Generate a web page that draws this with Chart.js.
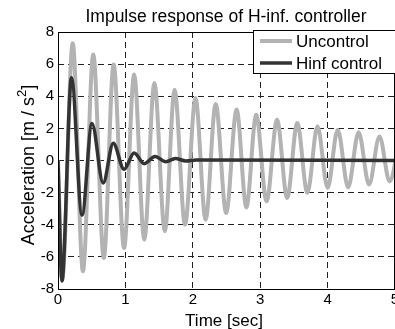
<!DOCTYPE html>
<html>
<head>
<meta charset="utf-8">
<script src="https://cdn.jsdelivr.net/npm/chart.js@4"></script>
<style>
  html, body { margin: 0; padding: 0; background: #fff; }
  #wrap { width: 395px; height: 329px; position: relative; overflow: hidden; }
</style>
</head>
<body>
<div id="wrap"><canvas id="chart" width="395" height="329"></canvas></div>
<script>
// values (peaks and troughs, seconds / m/s^2)
const uncTime = [0, 0.063, 0.218, 0.37, 0.523, 0.68, 0.825, 0.98, 1.13, 1.28, 1.43, 1.585, 1.73, 1.885, 2.04, 2.19, 2.34, 2.495, 2.65, 2.795, 2.94, 3.095, 3.25, 3.40, 3.55, 3.70, 3.85, 4.0, 4.15, 4.305, 4.46, 4.615, 4.77, 4.92, 5.07];
const uncAcc  = [0, -7.4, 7.3, -6.9, 6.6, -6.07, 5.97, -5.45, 5.35, -4.93, 4.83, -4.4, 4.41, -4.0, 3.89, -3.69, 3.52, -3.27, 3.17, -2.92, 2.85, -2.54, 2.54, -2.33, 2.33, -2.02, 2.13, -1.71, 1.92, -1.67, 1.76, -1.5, 1.5, -1.3, 1.4];

const hinfTime = [0, 0.058, 0.2, 0.356, 0.504, 0.67, 0.82, 0.98, 1.13, 1.28, 1.44, 1.6, 1.74, 1.9, 2.05, 5];
const hinfAcc  = [0, -7.5, 5.15, -3.4, 2.3, -1.4, 1.08, -0.55, 0.47, -0.2, 0.25, -0.08, 0.12, -0.03, 0.03, 0];

const seriesNames = ['Uncontrol', 'Hinf control'];
const xTicks = [0, 1, 2, 3, 4, 5];
const yTicks = [-8, -6, -4, -2, 0, 2, 4, 6, 8];

const titleText = 'Impulse response of H-inf. controller';
const xTitle = 'Time [sec]';
const yTitleParts = ['Acceleration [m / s', '2', ']'];

const FONT = "'Liberation Sans', Arial, sans-serif";
const GRAY = '#b3b3b3';
const DARK = '#333333';

function toPoints(xs, ys) {
    return xs.map((x, i) => ({ x: x, y: ys[i] }));
}

const textPlugin = {
    id: 'textPlugin',
    afterDraw(chart) {
        const ctx = chart.ctx;
        const a = chart.chartArea;
        ctx.save();

        // solid axes box
        ctx.strokeStyle = '#000';
        ctx.lineWidth = 1;
        ctx.setLineDash([]);
        ctx.strokeRect(a.left + 0.5, a.top + 0.5, a.right - a.left - 1, a.bottom - a.top);

        // title
        ctx.fillStyle = '#000';
        ctx.font = '17.5px ' + FONT;
        ctx.textAlign = 'center';
        ctx.textBaseline = 'alphabetic';
        ctx.fillText(titleText, 226, 22);

        // x title
        ctx.font = '17px ' + FONT;
        ctx.fillText(xTitle, 224, 326);

        // y title with superscript
        ctx.save();
        ctx.translate(34, 165);
        ctx.rotate(-Math.PI / 2);
        ctx.textAlign = 'left';
        ctx.font = '18px ' + FONT;
        const w0 = ctx.measureText(yTitleParts[0]).width;
        const w2 = ctx.measureText(yTitleParts[2]).width;
        ctx.font = '13px ' + FONT;
        const w1 = ctx.measureText(yTitleParts[1]).width;
        let x0 = -(w0 + w1 + w2) / 2;
        ctx.font = '18px ' + FONT;
        ctx.fillText(yTitleParts[0], x0, 0);
        ctx.font = '13px ' + FONT;
        ctx.fillText(yTitleParts[1], x0 + w0, -8);
        ctx.font = '18px ' + FONT;
        ctx.fillText(yTitleParts[2], x0 + w0 + w1, 0);
        ctx.restore();

        // legend
        ctx.font = '17px ' + FONT;
        ctx.fillStyle = '#fff';
        ctx.fillRect(253, 30, 160, 43);
        ctx.strokeStyle = '#000';
        ctx.lineWidth = 1;
        ctx.strokeRect(253.5, 30.5, 160, 43);
        const colors = [GRAY, DARK];
        const widths = [4, 3.5];
        const ys = [41, 63];
        seriesNames.forEach((name, i) => {
            ctx.strokeStyle = colors[i];
            ctx.lineWidth = widths[i];
            ctx.beginPath();
            ctx.moveTo(260, ys[i]);
            ctx.lineTo(292, ys[i]);
            ctx.stroke();
            ctx.fillStyle = '#000';
            ctx.textAlign = 'left';
            ctx.textBaseline = 'middle';
            ctx.fillText(name, 296, ys[i] + 1);
        });
        ctx.restore();
    }
};

const ctx = document.getElementById('chart').getContext('2d');
new Chart(ctx, {
    type: 'line',
    data: {
        datasets: [
            {
                label: seriesNames[0],
                data: toPoints(uncTime, uncAcc),
                borderColor: GRAY,
                borderWidth: 4,
                pointRadius: 0,
                cubicInterpolationMode: 'monotone',
                fill: false,
                order: 1
            },
            {
                label: seriesNames[1],
                data: toPoints(hinfTime, hinfAcc),
                borderColor: DARK,
                borderWidth: 3.5,
                pointRadius: 0,
                cubicInterpolationMode: 'monotone',
                fill: false,
                order: 0
            }
        ]
    },
    options: {
        responsive: false,
        animation: false,
        layout: { padding: { top: 32, right: 0, left: 0, bottom: 0 } },
        plugins: {
            legend: { display: false },
            title: { display: false },
            tooltip: { enabled: false }
        },
        scales: {
            x: {
                type: 'linear',
                min: 0,
                max: 5,
                afterFit(scale) {
                    scale.height = 40;
                    scale.paddingLeft = 0;
                    scale.paddingRight = 0;
                },
                afterBuildTicks(scale) { scale.ticks = xTicks.map(v => ({ value: v })); },
                ticks: {
                    color: '#000',
                    font: { family: FONT, size: 15 },
                    padding: 2,
                    maxRotation: 0
                },
                grid: {
                    color: '#222',
                    lineWidth: 1,
                    drawTicks: false
                },
                border: { display: false, dash: [6, 4] }
            },
            y: {
                min: -8,
                max: 8,
                afterFit(scale) {
                    scale.width = 58;
                    scale.paddingTop = 0;
                    scale.paddingBottom = 0;
                },
                afterBuildTicks(scale) { scale.ticks = yTicks.map(v => ({ value: v })); },
                ticks: {
                    color: '#000',
                    font: { family: FONT, size: 15 },
                    padding: 4
                },
                grid: {
                    color: '#222',
                    lineWidth: 1,
                    drawTicks: false
                },
                border: { display: false, dash: [6, 4] }
            }
        }
    },
    plugins: [textPlugin]
});
</script>
</body>
</html>
